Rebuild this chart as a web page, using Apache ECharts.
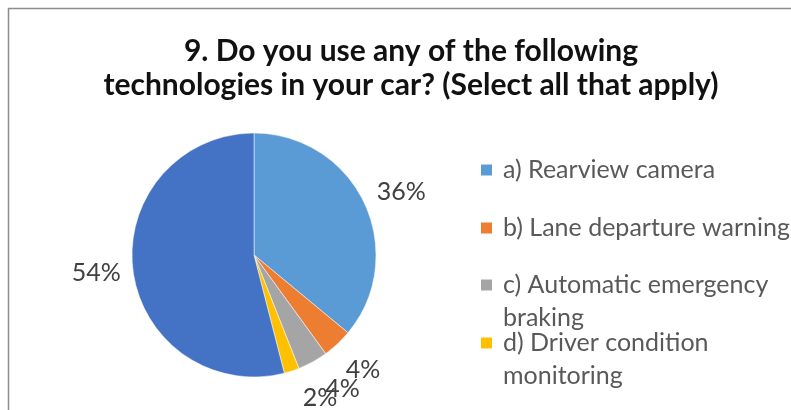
<!DOCTYPE html>
<html>
<head>
<meta charset="utf-8">
<style>
  html, body { margin: 0; padding: 0; background: #fff; }
  #chart { width: 791px; height: 410px; }
</style>
<script src="https://cdn.jsdelivr.net/npm/echarts@6/dist/echarts.min.js"></script>
</head>
<body>
<div id="chart"></div>
<script>
// Survey answers (share of respondents, %)
const categories = [
  'a) Rearview camera',
  'b) Lane departure warning',
  'c) Automatic emergency braking',
  'd) Driver condition monitoring',
  'e) None of the above'
];
const values = [36, 4, 4, 2, 54];
const colors = ['#5B9BD5', '#ED7D31', '#A5A5A5', '#FFC000', '#4472C4'];
// the legend lists the first four answers, one entry each
const legendItems = categories.slice(0, 4);
const legendTops = [148.5, 206.5, 230.5, 288.5];
const legendWraps = [false, false, true, true];
// small nudges so the percentage labels sit like the original layout
const labelOffsets = [[-2, 7], [-4, -5], [9, -11], [15, -14], [6, -3]];

const FONT = 'Lato, "Open Sans", sans-serif';

const pieData = categories.map((name, i) => ({
  name: name,
  value: values[i],
  itemStyle: { color: colors[i] }
}));

const labelRingData = categories.map((name, i) => ({
  name: name,
  value: values[i],
  label: { offset: labelOffsets[i] }
}));

// One legend box per entry so wrapped names keep the row spacing fixed.
// Wrapped names get an empty leading line, which keeps their first line
// level with the swatch while the rest hangs below it.
const legends = legendItems.map((name, i) => ({
  data: [name],
  orient: 'vertical',
  left: 474,
  top: legendTops[i],
  itemWidth: 13,
  itemHeight: 13,
  icon: 'rect',
  selectedMode: false,
  formatter: legendWraps[i] ? '\n{name}' : '{name}',
  textStyle: {
    fontFamily: FONT,
    fontSize: 25,
    color: '#595959',
    lineHeight: 33,
    width: 300,
    overflow: 'break',
    padding: [0, 0, 0, 5]
  }
}));

const chart = echarts.init(document.getElementById('chart'), null, { renderer: 'canvas' });

chart.setOption({
  backgroundColor: '#ffffff',
  animation: false,
  title: {
    text: '9. Do you use any of the following\ntechnologies in your car? (Select all that apply)',
    left: 406,
    textAlign: 'center',
    top: 29,
    textStyle: {
      fontFamily: FONT,
      fontWeight: 'bold',
      fontSize: 30,
      lineHeight: 34,
      color: '#111111'
    }
  },
  legend: legends,
  graphic: [{
    type: 'rect',
    silent: true,
    shape: { x: 8.5, y: 8.5, width: 900, height: 500 },
    style: { fill: 'none', stroke: '#8c8c8c', lineWidth: 1.5 }
  }],
  series: [
    {
      type: 'pie',
      center: [254, 255],
      radius: [0, 122],
      startAngle: 90,
      clockwise: true,
      silent: true,
      label: { show: false },
      labelLine: { show: false },
      itemStyle: { borderColor: '#ffffff', borderWidth: 0.5 },
      data: pieData
    },
    {
      // transparent ring that carries the percentage labels just outside the pie
      type: 'pie',
      center: [254, 255],
      radius: [122, 202],
      startAngle: 90,
      clockwise: true,
      silent: true,
      avoidLabelOverlap: false,
      labelLayout: { hideOverlap: false },
      itemStyle: { color: 'rgba(0,0,0,0)' },
      label: {
        show: true,
        position: 'inside',
        formatter: '{c}%',
        fontFamily: FONT,
        fontSize: 25,
        color: '#404040'
      },
      labelLine: { show: false },
      data: labelRingData
    }
  ]
});
</script>
</body>
</html>
